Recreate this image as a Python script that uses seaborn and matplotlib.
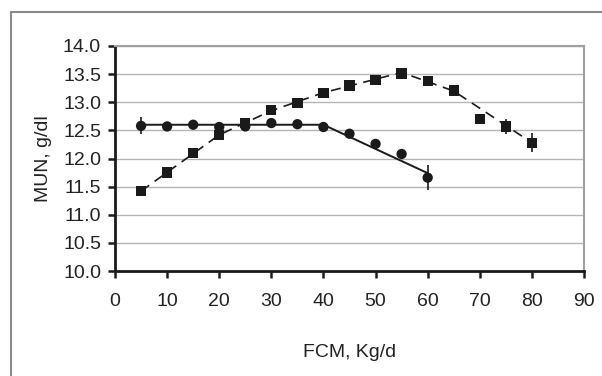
import matplotlib
matplotlib.use("Agg")
import matplotlib.pyplot as plt
import seaborn as sns
import pandas as pd
from matplotlib.lines import Line2D

# Data
circle_x = [5, 10, 15, 20, 25, 30, 35, 40, 45, 50, 55, 60]
circle_y = [12.58, 12.57, 12.60, 12.56, 12.57, 12.63, 12.61, 12.56, 12.44, 12.26, 12.08, 11.66]
circle_err = [0.15, 0, 0, 0, 0, 0, 0, 0, 0, 0, 0, 0.22]
circle_fit_x = [5, 40, 60]
circle_fit_y = [12.6, 12.6, 11.74]

square_x = [5, 10, 15, 20, 25, 30, 35, 40, 45, 50, 55, 60, 65, 70, 75, 80]
square_y = [11.42, 11.75, 12.10, 12.42, 12.63, 12.86, 12.99, 13.16, 13.30, 13.40, 13.51, 13.38, 13.21, 12.70, 12.57, 12.28]
square_err = [0, 0, 0, 0, 0, 0, 0, 0, 0, 0, 0, 0, 0, 0.08, 0.13, 0.17]
square_fit_x = [5, 20, 30, 40, 55, 65, 80]
square_fit_y = [11.42, 12.42, 12.85, 13.17, 13.53, 13.2, 12.28]

x_ticks = [0, 10, 20, 30, 40, 50, 60, 70, 80, 90]
y_ticks = [10.0, 10.5, 11.0, 11.5, 12.0, 12.5, 13.0, 13.5, 14.0]

sns.set_theme(style="white")
plt.rcParams['font.family'] = ['Liberation Sans', 'DejaVu Sans']

fig = plt.figure(figsize=(6.02, 3.76), dpi=100)
ax = fig.add_axes([115/602, 1 - 271/376, (584-115)/602, 225/376])

# outer frame (left and top lines)
fig.add_artist(Line2D([11/602, 11/602], [0, 1 - 12/376], transform=fig.transFigure, color='#8a8a8a', lw=1.5))
fig.add_artist(Line2D([11/602, 1], [1 - 12/376, 1 - 12/376], transform=fig.transFigure, color='#8a8a8a', lw=1.5))

for yv in y_ticks[1:]:
    ax.axhline(yv, color='#b4b4b4', lw=1.0, zorder=0)

cdf = pd.DataFrame({'x': circle_x, 'y': circle_y})
sdf = pd.DataFrame({'x': square_x, 'y': square_y})
cfit = pd.DataFrame({'x': circle_fit_x, 'y': circle_fit_y})
sfit = pd.DataFrame({'x': square_fit_x, 'y': square_fit_y})

sns.lineplot(data=cfit, x='x', y='y', ax=ax, color='#1a1a1a', lw=1.4, zorder=2)
sns.lineplot(data=sfit, x='x', y='y', ax=ax, color='#1a1a1a', lw=1.2, zorder=2)
ax.lines[-1].set_dashes([6, 4])

ax.errorbar(circle_x, circle_y, yerr=circle_err, fmt='none', ecolor='#1a1a1a', elinewidth=1.2, capsize=0, zorder=3)
ax.errorbar(square_x, square_y, yerr=square_err, fmt='none', ecolor='#1a1a1a', elinewidth=1.2, capsize=0, zorder=3)

sns.scatterplot(data=cdf, x='x', y='y', ax=ax, marker='o', s=55, color='#1a1a1a', edgecolor='none', zorder=4)
sns.scatterplot(data=sdf, x='x', y='y', ax=ax, marker='s', s=55, color='#1a1a1a', edgecolor='none', zorder=4)

ax.set_xlim(0, 90)
ax.set_ylim(10, 14)
ax.set_xticks(x_ticks)
ax.set_yticks(y_ticks)
ax.set_xticklabels([str(v) for v in x_ticks])
ax.set_yticklabels([f"{v:.1f}" for v in y_ticks])
ax.tick_params(axis='both', direction='out', length=5, width=1.8, color='#1a1a1a',
               labelsize=14, labelcolor='#222222', bottom=True, left=True)
ax.tick_params(axis='x', pad=11)
ax.tick_params(axis='y', pad=5)

for side in ['left', 'bottom']:
    ax.spines[side].set_color('#1a1a1a')
    ax.spines[side].set_linewidth(2.0)
for side in ['top', 'right']:
    ax.spines[side].set_color('#a0a0a0')
    ax.spines[side].set_linewidth(1.5)

ax.set_xlabel('FCM, Kg/d', fontsize=14, color='#222222', labelpad=24)
ax.set_ylabel('MUN, g/dl', fontsize=14, color='#222222', labelpad=8)

fig.savefig('out.png', dpi=100, facecolor='white')
